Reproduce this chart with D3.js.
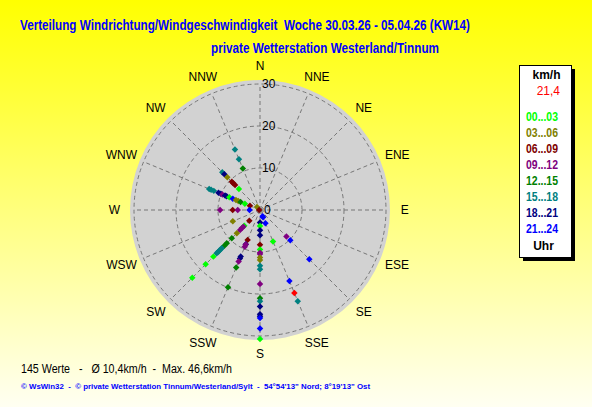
<!DOCTYPE html>
<html>
<head>
<meta charset="utf-8">
<script src="https://cdn.jsdelivr.net/npm/d3@7"></script>
<style>
body { margin: 0; }
svg { display: block; }
text { font-family: "Liberation Sans", Arial, sans-serif; white-space: pre; }
</style>
</head>
<body>
<div id="chart"></div>
<script>
const compass = ["N", "NNE", "NE", "ENE", "E", "ESE", "SE", "SSE", "S", "SSW", "SW", "WSW", "W", "WNW", "NW", "NNW"];
const ringTicks = [0, 10, 20, 30];
const hourBins = ["00...03", "03...06", "06...09", "09...12", "12...15", "15...18", "18...21", "21...24"];
const binColors = ["#00ff00", "#808000", "#800000", "#800080", "#008000", "#008080", "#000080", "#0000ff"];

// one entry per reading: direction, speed km/h, hour bin
const obsDir = [
	"NNW", "NNW", "NNW",
	"NW", "NW", "NW", "NW", "NW", "NW", "NW", "NW",
	"WNW", "WNW", "WNW", "WNW", "WNW", "WNW", "WNW", "WNW", "WNW", "WNW", "WNW", "WNW", "WNW", "WNW", "WNW",
	"W", "W", "W", "W", "W",
	"WSW",
	"SW", "SW", "SW", "SW", "SW", "SW", "SW", "SW", "SW", "SW", "SW", "SW", "SW", "SW", "SW", "SW", "SW",
	"SSW", "SSW", "SSW", "SSW", "SSW", "SSW", "SSW", "SSW", "SSW",
	"S", "S", "S", "S", "S", "S", "S", "S", "S", "S", "S", "S", "S", "S", "S", "S", "S", "S", "S", "S", "S",
	"SSE", "SSE", "SSE", "SSE", "SSE", "SSE",
	"SE", "SE", "SE"
];
const obsSpeed = [
	15.6, 13.1, 10.7,
	12.7, 12.0, 11.0, 9.5, 9.0, 8.4, 7.1, 1.0,
	13.1, 12.6, 11.9, 10.7, 10.1, 9.7, 9.0, 8.6, 7.9, 7.0, 6.2, 5.6, 5.0, 3.9, 2.6,
	9.5, 6.5, 5.3, 2.5, 0.2,
	7.0,
	3.6, 5.3, 5.6, 6.1, 6.7, 7.8, 9.5, 11.2, 12.0, 12.9, 13.3, 13.8, 14.2, 14.6, 15.7, 18.3, 22.8,
	7.7, 8.8, 8.9, 9.5, 12.0, 12.5, 13.3, 14.8, 19.9,
	3.0, 3.8, 4.8, 6.0, 8.3, 9.4, 10.2, 10.5, 11.3, 11.9, 13.3, 14.1, 17.6, 21.0, 21.7, 23.0, 24.8, 25.3, 25.7, 28.2, 30.7,
	1.6, 1.9, 3.4, 8.1, 18.3, 23.5,
	8.9, 10.2, 16.6
];
const obsBin = [
	5, 5, 4,
	5, 6, 1, 2, 2, 2, 0, 1,
	5, 5, 5, 6, 6, 3, 6, 6, 0, 7, 1, 1, 4, 0, 2,
	3, 2, 3, 7, 2,
	1,
	2, 0, 3, 3, 3, 1, 4, 4, 4, 5, 5, 5, 5, 5, 0, 0, 0,
	2, 6, 3, 3, 6, 6, 3, 4, 4,
	6, 0, 6, 6, 2, 0, 3, 3, 1, 1, 5, 5, 3, 4, 5, 6, 6, 6, 7, 7, 0,
	7, 7, 7, 0, 7, 5,
	3, 7, 7
];
const currentDir = "SSE";
const currentSpeed = 21.4;

const width = 592, height = 407;
const cx = 260, cy = 210;

const svg = d3.select("#chart").append("svg")
	.attr("width", width)
	.attr("height", height);

const grad = svg.append("defs").append("linearGradient")
	.attr("id", "bg")
	.attr("x1", 0).attr("y1", 0).attr("x2", 0).attr("y2", 1);
grad.append("stop").attr("offset", "0%").attr("stop-color", "#ffff00");
grad.append("stop").attr("offset", "100%").attr("stop-color", "#fffff2");

svg.append("rect")
	.attr("width", width)
	.attr("height", height)
	.attr("fill", "url(#bg)");

const r = d3.scaleLinear().domain([0, 30]).range([0, 126]);
const angle = d3.scaleLinear().domain([0, compass.length]).range([0, 2 * Math.PI]);
const px = (dir, v) => cx + r(v) * Math.sin(angle(compass.indexOf(dir)));
const py = (dir, v) => cy - r(v) * Math.cos(angle(compass.indexOf(dir)));

// titles
svg.append("text")
	.attr("x", 20).attr("y", 29.5)
	.attr("font-size", 14).attr("font-weight", "bold")
	.attr("fill", "#0000ff")
	.attr("textLength", 450).attr("lengthAdjust", "spacingAndGlyphs")
	.text("Verteilung Windrichtung/Windgeschwindigkeit  Woche 30.03.26 - 05.04.26 (KW14)");

svg.append("text")
	.attr("x", 211).attr("y", 53.3)
	.attr("font-size", 14).attr("font-weight", "bold")
	.attr("fill", "#0000ff")
	.attr("textLength", 228).attr("lengthAdjust", "spacingAndGlyphs")
	.text("private Wetterstation Westerland/Tinnum");

// polar plot
const plot = svg.append("g");

plot.append("circle")
	.attr("cx", cx).attr("cy", cy)
	.attr("r", r(30) + 4)
	.attr("fill", "#d2d2d2");

plot.selectAll("circle.ring")
	.data(ringTicks.filter(d => d > 0))
	.join("circle")
	.attr("class", "ring")
	.attr("cx", cx).attr("cy", cy)
	.attr("r", d => r(d))
	.attr("fill", "none")
	.attr("stroke", "#777")
	.attr("stroke-dasharray", "4,3");

plot.selectAll("line.spoke")
	.data(compass)
	.join("line")
	.attr("class", "spoke")
	.attr("x1", cx).attr("y1", cy)
	.attr("x2", d => px(d, 30))
	.attr("y2", d => py(d, 30))
	.attr("stroke", "#777")
	.attr("stroke-dasharray", "4,3");

plot.selectAll("text.tick")
	.data(ringTicks)
	.join("text")
	.attr("class", "tick")
	.attr("x", d => d === 0 ? cx + 4 : cx + 2)
	.attr("y", d => cy - r(d))
	.attr("dy", "0.36em")
	.attr("font-size", 12)
	.attr("fill", "#000")
	.text(d => d);

const dirLabels = plot.selectAll("text.dir")
	.data(compass)
	.join("text")
	.attr("class", "dir")
	.attr("font-size", 12)
	.attr("fill", "#000")
	.attr("text-anchor", "middle")
	.attr("dy", "0.36em")
	.text(d => d);

dirLabels.each(function(d) {
	const w = this.getComputedTextLength();
	const a = angle(compass.indexOf(d));
	d3.select(this)
		.attr("x", cx + (143 + 0.45 * w / 2) * Math.sin(a))
		.attr("y", cy - 144 * Math.cos(a));
});

const marker = d3.symbol(d3.symbolSquare, 21);

plot.selectAll("path.obs")
	.data(obsDir.map((d, i) => ({dir: d, v: obsSpeed[i], bin: obsBin[i]})))
	.join("path")
	.attr("class", "obs")
	.attr("d", marker)
	.attr("transform", d => `translate(${px(d.dir, d.v)},${py(d.dir, d.v)}) rotate(45)`)
	.attr("fill", d => binColors[d.bin]);

plot.append("path")
	.attr("d", marker)
	.attr("transform", `translate(${px(currentDir, currentSpeed)},${py(currentDir, currentSpeed)}) rotate(45)`)
	.attr("fill", "#ff0000");

// legend
const lg = svg.append("g");
lg.append("rect")
	.attr("x", 523).attr("y", 69)
	.attr("width", 52).attr("height", 192)
	.attr("fill", "#000");
lg.append("rect")
	.attr("x", 519.5).attr("y", 65.5)
	.attr("width", 52).attr("height", 192)
	.attr("fill", "#fff")
	.attr("stroke", "#000");

lg.append("text")
	.attr("x", 546.5).attr("y", 78.5)
	.attr("text-anchor", "middle")
	.attr("font-size", 12).attr("font-weight", "bold")
	.text("km/h");

lg.append("text")
	.attr("x", 560).attr("y", 94.5)
	.attr("text-anchor", "end")
	.attr("font-size", 12)
	.attr("fill", "#ff0000")
	.text(String(currentSpeed).replace(".", ","));

lg.selectAll("text.bin")
	.data(hourBins)
	.join("text")
	.attr("class", "bin")
	.attr("x", 526)
	.attr("y", (d, i) => 121 + i * 16)
	.attr("font-size", 12).attr("font-weight", "bold")
	.attr("textLength", 32).attr("lengthAdjust", "spacingAndGlyphs")
	.attr("fill", (d, i) => binColors[i])
	.text(d => d);

lg.append("text")
	.attr("x", 543.5).attr("y", 249.5)
	.attr("text-anchor", "middle")
	.attr("font-size", 12).attr("font-weight", "bold")
	.text("Uhr");

// footer
svg.append("text")
	.attr("x", 21).attr("y", 372.5)
	.attr("font-size", 12)
	.attr("fill", "#000")
	.attr("textLength", 211).attr("lengthAdjust", "spacingAndGlyphs")
	.text("145 Werte   -   Ø 10,4km/h  -  Max. 46,6km/h");

svg.append("text")
	.attr("x", 21).attr("y", 388.5)
	.attr("font-size", 8).attr("font-weight", "bold")
	.attr("fill", "#0000ff")
	.attr("textLength", 349).attr("lengthAdjust", "spacingAndGlyphs")
	.text("© WsWin32  -  © private Wetterstation Tinnum/Westerland/Sylt  -  54°54'13\" Nord; 8°19'13\" Ost");
</script>
</body>
</html>
